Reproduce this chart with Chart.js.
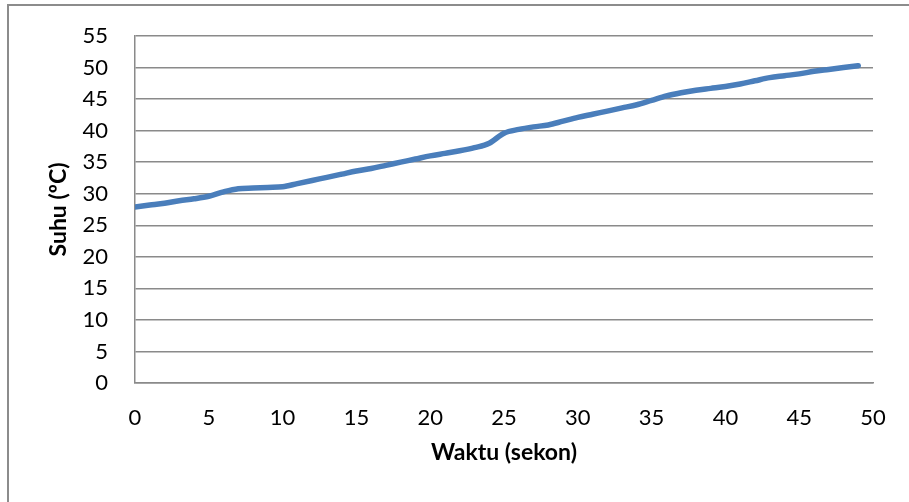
<!DOCTYPE html>
<html>
<head>
<meta charset="utf-8">
<script src="https://cdn.jsdelivr.net/npm/chart.js@4.4.0/dist/chart.umd.min.js"></script>
<style>
  html, body { margin: 0; padding: 0; background: #fff; overflow: hidden; }
  #wrap { position: relative; width: 909px; height: 502px; }
  #frame { position: absolute; left: 7px; top: 4px; width: 960px; height: 560px; border: 2px solid #8c8c8c; box-sizing: border-box; }
  #grafik { position: absolute; left: 0; top: 0; }
</style>
</head>
<body>
<div id="wrap">
  <div id="frame"></div>
  <canvas id="grafik" width="909" height="502"></canvas>
</div>
<script>
// waktu pemanasan (detik) dan suhu terukur
var waktu = [0, 1, 2, 3, 4, 5, 6, 7, 8, 9,
  10, 11, 12, 13, 14, 15, 16, 17, 18, 19,
  20, 21, 22, 23, 24, 25, 26, 27, 28, 29,
  30, 31, 32, 33, 34, 35, 36, 37, 38, 39,
  40, 41, 42, 43, 44, 45, 46, 47, 48, 49];
var suhu = [27.9, 28.2, 28.5, 28.9, 29.2, 29.6, 30.3, 30.8, 30.9, 31.0,
  31.1, 31.6, 32.1, 32.6, 33.1, 33.6, 34.0, 34.5, 35.0, 35.5,
  36.0, 36.4, 36.8, 37.3, 38.0, 39.6, 40.2, 40.6, 40.9, 41.5,
  42.1, 42.6, 43.1, 43.6, 44.1, 44.8, 45.5, 46.0, 46.4, 46.7,
  47.0, 47.4, 47.9, 48.4, 48.7, 49.0, 49.4, 49.7, 50.0, 50.3];

var xTicks = [0, 5, 10, 15, 20, 25, 30, 35, 40, 45, 50];
var yTicks = [0, 5, 10, 15, 20, 25, 30, 35, 40, 45, 50, 55];

var titikData = waktu.map(function (t, i) { return { x: t, y: suhu[i] }; });

Chart.defaults.font.family = "Lato, 'Open Sans', sans-serif";
Chart.defaults.color = '#000';

var ctx = document.getElementById('grafik').getContext('2d');
var chart = new Chart(ctx, {
  type: 'line',
  data: {
    datasets: [{
      data: titikData,
      borderColor: '#4a7ebb',
      borderWidth: 5.5,
      borderCapStyle: 'round',
      borderJoinStyle: 'round',
      pointRadius: 0,
      cubicInterpolationMode: 'monotone',
      fill: false
    }]
  },
  options: {
    responsive: false,
    animation: false,
    layout: { padding: { top: 36, right: 36, left: 0, bottom: 0 } },
    plugins: { legend: { display: false }, tooltip: { enabled: false } },
    scales: {
      x: {
        type: 'linear',
        min: 0, max: 50,
        afterBuildTicks: function (s) { s.ticks = xTicks.map(function (v) { return { value: v }; }); },
        afterFit: function (s) { s.height = 119; },
        grid: { display: false, drawTicks: false },
        border: { display: true, color: '#8a8a8a', width: 1.5 },
        ticks: { font: { size: 22 }, padding: 22, maxRotation: 0 },
        title: { display: true, text: 'Waktu (sekon)', font: { size: 23, weight: 'bold' }, padding: { top: 0, bottom: 36 } }
      },
      y: {
        min: 0, max: 55,
        afterBuildTicks: function (s) { s.ticks = yTicks.map(function (v) { return { value: v }; }); },
        // lebar sumbu tetap, label atas tidak perlu ruang ekstra
        afterFit: function (s) { s.width = 135; s.paddingTop = 10; s.paddingBottom = 10; },
        grid: { color: '#8a8a8a', lineWidth: 1.5, drawTicks: false },
        border: { display: true, color: '#8a8a8a', width: 1.5 },
        ticks: { font: { size: 22 }, padding: 27 },
        title: { display: true, text: 'Suhu (ºC)', font: { size: 23, weight: 'bold' }, padding: { top: 45, bottom: 0 } }
      }
    }
  }
});
</script>
</body>
</html>
